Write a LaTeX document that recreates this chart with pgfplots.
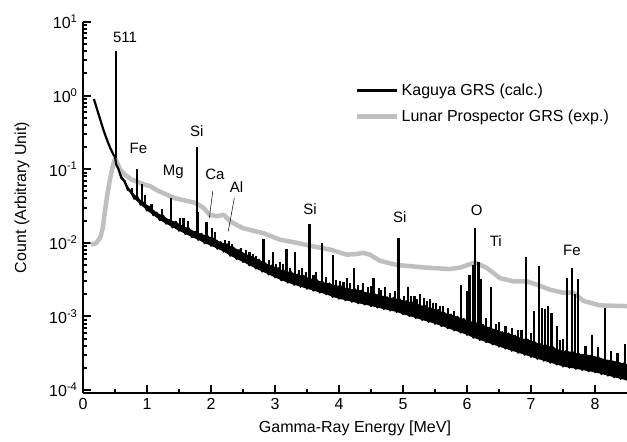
\documentclass[border=0pt]{standalone}
\usepackage{fontspec}
\setmainfont{Liberation Sans}
\usepackage{pgfplots}
\pgfplotsset{compat=1.18}

\begin{document}
\fontsize{16}{19}\selectfont
\begin{tikzpicture}
\begin{axis}[
  scale only axis, width=544pt, height=371pt,
  xmin=0, xmax=8.5, ymin=9.1e-5, ymax=10,
  ymode=log,
  /pgf/number format/assume math mode=true,
  axis lines=left, axis line style={-, line width=2.5pt},
  tick align=inside,
  every tick/.append style={black, line width=2pt},
  major tick length=8pt, minor tick length=4.5pt,
  xtick={0,1,2,3,4,5,6,7,8}, minor x tick num=1,
  ytick={1e-4,1e-3,1e-2,1e-1,1,10},
  yticklabels={10\textsuperscript{-4},10\textsuperscript{-3},10\textsuperscript{-2},10\textsuperscript{-1},10\textsuperscript{0},10\textsuperscript{1}},
  minor ytick={2e-4,3e-4,4e-4,5e-4,6e-4,7e-4,8e-4,9e-4,
               2e-3,3e-3,4e-3,5e-3,6e-3,7e-3,8e-3,9e-3,
               2e-2,3e-2,4e-2,5e-2,6e-2,7e-2,8e-2,9e-2,
               0.2,0.3,0.4,0.5,0.6,0.7,0.8,0.9,
               2,3,4,5,6,7,8,9},
  xlabel={Gamma-Ray Energy [MeV]},
  ylabel={Count (Arbitrary Unit)},
  ylabel shift=9pt,
  every axis y label/.append style={at={(ticklabel cs:0.527)}},
  label style={font=\fontsize{16}{19}\selectfont},
  tick label style={font=\fontsize{16}{19}\selectfont},
  legend style={draw=none, fill=none, at={(0.50,0.84)}, anchor=north west,
    font=\fontsize{16}{19}\selectfont, row sep=8pt, inner sep=0pt},
  legend cell align=left,
  legend image code/.code={\draw[#1] (0pt,0pt) -- (40pt,0pt);},
  reverse legend,
]

% Lunar Prospector GRS (exp.)
\addplot[black!25, line width=4.5pt, line join=round] coordinates {
(0.12,0.0095) (0.2,0.0098) (0.27,0.0118) (0.31,0.016) (0.34,0.026) (0.38,0.045)
(0.42,0.072) (0.46,0.105) (0.50,0.140) (0.55,0.115) (0.58,0.098) (0.65,0.085)
(0.75,0.073) (0.84,0.068) (0.95,0.062) (1.05,0.059) (1.15,0.052) (1.31,0.045)
(1.45,0.040) (1.57,0.038) (1.75,0.035) (1.88,0.030) (1.98,0.024) (2.09,0.023)
(2.2,0.024) (2.3,0.0195) (2.5,0.0158) (2.82,0.0135) (3.08,0.011) (3.34,0.010)
(3.6,0.0089) (3.86,0.0081) (4.12,0.0069) (4.25,0.0070) (4.38,0.0073) (4.48,0.0069)
(4.64,0.0057) (4.9,0.0050) (5.36,0.0046) (5.73,0.0044) (5.89,0.0046) (6.13,0.0054)
(6.3,0.0046) (6.52,0.0033) (6.72,0.0030) (6.93,0.0030) (7.09,0.0027) (7.3,0.0023)
(7.5,0.0021) (7.66,0.0021) (7.82,0.00162) (8.08,0.00141) (8.5,0.00138)
};
\addlegendentry{Lunar Prospector GRS (exp.)}

% Kaguya GRS (calc.): body of the noisy continuum, low envelope then high envelope
\addplot[fill=black, draw=none, forget plot] coordinates {
(0.52,0.115)
(0.60,0.0759) (0.70,0.0525) (0.80,0.0398) (0.90,0.0331) (1.00,0.0275) (1.10,0.0237)
(1.20,0.0204) (1.30,0.0182) (1.40,0.0162) (1.50,0.0146) (1.60,0.0132) (1.70,0.0120)
(1.80,0.0110) (1.90,0.00989) (2.00,0.00912) (2.10,0.00832) (2.20,0.00759) (2.30,0.00668)
(2.40,0.00603) (2.50,0.00550) (2.60,0.00495) (2.70,0.00447) (2.80,0.00407) (2.90,0.00372)
(3.00,0.00339) (3.10,0.00309) (3.20,0.00288) (3.30,0.00269) (3.40,0.00253) (3.50,0.00238)
(3.60,0.00224) (3.70,0.00211) (3.80,0.00200) (3.90,0.00184) (4.00,0.00174) (4.10,0.00166)
(4.20,0.00158) (4.30,0.00151) (4.40,0.00145) (4.50,0.00138) (4.60,0.00132) (4.70,0.00126)
(4.80,0.00120) (4.90,0.00115) (5.00,0.00107) (5.10,0.00101) (5.20,0.000951) (5.30,0.000895)
(5.40,0.000843) (5.50,0.000794) (5.60,0.000741) (5.70,0.000692) (5.80,0.000646) (5.90,0.000603)
(6.00,0.000562) (6.10,0.000513) (6.20,0.000479) (6.30,0.000447) (6.40,0.000417) (6.50,0.000389)
(6.60,0.000365) (6.70,0.000342) (6.80,0.000321) (6.90,0.000301) (7.00,0.000282) (7.10,0.000265)
(7.20,0.000250) (7.30,0.000235) (7.40,0.000222) (7.50,0.000209) (7.60,0.000201) (7.70,0.000194)
(7.80,0.000187) (7.90,0.000180) (8.00,0.000174) (8.10,0.000165) (8.20,0.000157) (8.30,0.000149)
(8.40,0.000142) (8.50,0.000135)
(8.50,0.000225) (8.45,0.000230) (8.35,0.000242) (8.25,0.000254) (8.15,0.000261) (8.05,0.000281)
(7.95,0.000294) (7.85,0.000305) (7.75,0.000309) (7.65,0.000328) (7.55,0.000340) (7.45,0.000349)
(7.35,0.000379) (7.25,0.000403) (7.15,0.000418) (7.05,0.000454) (6.95,0.000483) (6.85,0.000504)
(6.75,0.000550) (6.65,0.000586) (6.55,0.000611) (6.45,0.000668) (6.35,0.000700) (6.25,0.000767)
(6.15,0.000804) (6.05,0.000861) (5.95,0.000923) (5.85,0.000989) (5.75,0.00106) (5.65,0.00111)
(5.55,0.00122) (5.45,0.00127) (5.35,0.00138) (5.25,0.00143) (5.15,0.00155) (5.05,0.00161)
(4.95,0.00170) (4.85,0.00178) (4.75,0.00182) (4.65,0.00195) (4.55,0.00204) (4.45,0.00209)
(4.35,0.00224) (4.25,0.00234) (4.15,0.00234) (4.05,0.00257) (3.95,0.00265) (3.85,0.00281)
(3.75,0.00290) (3.65,0.00315) (3.55,0.00326) (3.45,0.00355) (3.35,0.00369) (3.25,0.00403)
(3.15,0.00412) (3.05,0.00452) (2.95,0.00490) (2.85,0.00525) (2.75,0.00589) (2.65,0.00653)
(2.55,0.00692) (2.45,0.00794) (2.35,0.00861) (2.25,0.00955) (2.15,0.0102) (2.05,0.0115)
(1.95,0.0123) (1.85,0.0132) (1.75,0.0141) (1.65,0.0158) (1.55,0.0170) (1.45,0.0193)
(1.35,0.0204) (1.25,0.0234) (1.15,0.0257) (1.05,0.0309) (0.95,0.0351) (0.85,0.0417)
(0.75,0.0507) (0.65,0.0692) (0.55,0.102)
} -- cycle;

% Kaguya GRS (calc.) continuum
\addplot[black, line width=2.2pt, line join=round] coordinates {
(0.17,0.90) (0.22,0.65) (0.27,0.47) (0.32,0.34) (0.375,0.25) (0.43,0.19) (0.48,0.155)
(0.50,0.148) (0.52,0.115)
(0.55,0.102) (0.60,0.0759) (0.65,0.0692) (0.70,0.0525) (0.75,0.0507) (0.80,0.0398)
(0.85,0.0417) (0.90,0.0331) (0.95,0.0351) (1.00,0.0275) (1.05,0.0309) (1.10,0.0237)
(1.15,0.0257) (1.20,0.0204) (1.25,0.0234) (1.30,0.0182) (1.35,0.0204) (1.40,0.0162)
(1.45,0.0193) (1.50,0.0146) (1.55,0.0170) (1.60,0.0132) (1.65,0.0158) (1.70,0.0120)
(1.75,0.0141) (1.80,0.0110) (1.85,0.0132) (1.90,0.00989) (1.95,0.0123) (2.00,0.00912)
(2.05,0.0115) (2.10,0.00832) (2.15,0.0102) (2.20,0.00759) (2.25,0.00955) (2.30,0.00668)
(2.35,0.00861) (2.40,0.00603) (2.45,0.00794) (2.50,0.00550) (2.55,0.00692) (2.60,0.00495)
(2.65,0.00653) (2.70,0.00447) (2.75,0.00589) (2.80,0.00407) (2.85,0.00525) (2.90,0.00372)
(2.95,0.00490) (3.00,0.00339) (3.05,0.00452) (3.10,0.00309) (3.15,0.00412) (3.20,0.00288)
(3.25,0.00403) (3.30,0.00269) (3.35,0.00369) (3.40,0.00253) (3.45,0.00355) (3.50,0.00238)
(3.55,0.00326) (3.60,0.00224) (3.65,0.00315) (3.70,0.00211) (3.75,0.00290) (3.80,0.00200)
(3.85,0.00281) (3.90,0.00184) (3.95,0.00265) (4.00,0.00174) (4.05,0.00257) (4.10,0.00166)
(4.15,0.00234) (4.20,0.00158) (4.25,0.00234) (4.30,0.00151) (4.35,0.00224) (4.40,0.00145)
(4.45,0.00209) (4.50,0.00138) (4.55,0.00204) (4.60,0.00132) (4.65,0.00195) (4.70,0.00126)
(4.75,0.00182) (4.80,0.00120) (4.85,0.00178) (4.90,0.00115) (4.95,0.00170) (5.00,0.00107)
(5.05,0.00161) (5.10,0.00101) (5.15,0.00155) (5.20,0.000951) (5.25,0.00143) (5.30,0.000895)
(5.35,0.00138) (5.40,0.000843) (5.45,0.00127) (5.50,0.000794) (5.55,0.00122) (5.60,0.000741)
(5.65,0.00111) (5.70,0.000692) (5.75,0.00106) (5.80,0.000646) (5.85,0.000989) (5.90,0.000603)
(5.95,0.000923) (6.00,0.000562) (6.05,0.000861) (6.10,0.000513) (6.15,0.000804) (6.20,0.000479)
(6.25,0.000767) (6.30,0.000447) (6.35,0.000700) (6.40,0.000417) (6.45,0.000668) (6.50,0.000389)
(6.55,0.000611) (6.60,0.000365) (6.65,0.000586) (6.70,0.000342) (6.75,0.000550) (6.80,0.000321)
(6.85,0.000504) (6.90,0.000301) (6.95,0.000483) (7.00,0.000282) (7.05,0.000454) (7.10,0.000265)
(7.15,0.000418) (7.20,0.000250) (7.25,0.000403) (7.30,0.000235) (7.35,0.000379) (7.40,0.000222)
(7.45,0.000349) (7.50,0.000209) (7.55,0.000340) (7.60,0.000201) (7.65,0.000328) (7.70,0.000194)
(7.75,0.000309) (7.80,0.000187) (7.85,0.000305) (7.90,0.000180) (7.95,0.000294) (8.00,0.000174)
(8.05,0.000281) (8.10,0.000165) (8.15,0.000261) (8.20,0.000157) (8.25,0.000254) (8.30,0.000149)
(8.35,0.000242) (8.40,0.000142) (8.45,0.000230) (8.50,0.000135)
};
\addlegendentry{Kaguya GRS (calc.)}

% Kaguya GRS (calc.) lines
\addplot[black, line width=2.2pt, unbounded coords=jump, forget plot] coordinates {
(0.511,0.14) (0.511,4.0) (0.511,nan)
(0.77,0.046) (0.77,0.056) (0.77,nan)
(0.847,0.040) (0.847,0.100) (0.847,nan)
(0.92,0.035) (0.92,0.062) (0.92,nan)
(0.97,0.032) (0.97,0.045) (0.97,nan)
(1.07,0.028) (1.07,0.034) (1.07,nan)
(1.23,0.022) (1.23,0.029) (1.23,nan)
(1.369,0.019) (1.369,0.040) (1.369,nan)
(1.52,0.0165) (1.52,0.022) (1.52,nan)
(1.57,0.0155) (1.57,0.022) (1.57,nan)
(1.64,0.0145) (1.64,0.020) (1.64,nan)
(1.779,0.0126) (1.779,0.20) (1.779,nan)
(1.80,0.012) (1.80,0.026) (1.80,nan)
(1.93,0.0112) (1.93,0.019) (1.93,nan)
(2.01,0.0104) (2.01,0.016) (2.01,nan)
(2.06,0.0099) (2.06,0.014) (2.06,nan)
(2.22,0.0085) (2.22,0.011) (2.22,nan)
(2.28,0.0079) (2.28,0.0105) (2.28,nan)
(2.33,0.0076) (2.33,0.0095) (2.33,nan)
(2.40,0.0071) (2.40,0.0081) (2.40,nan)
(2.47,0.0066) (2.47,0.0085) (2.47,nan)
(2.55,0.0062) (2.55,0.0081) (2.55,nan)
(2.60,0.0058) (2.60,0.0074) (2.60,nan)
(2.65,0.0056) (2.65,0.0070) (2.65,nan)
(2.70,0.0052) (2.70,0.0066) (2.70,nan)
(2.82,0.0047) (2.82,0.0112) (2.82,nan)
(2.90,0.0044) (2.90,0.0058) (2.90,nan)
(2.97,0.0041) (2.97,0.0074) (2.97,nan)
(3.02,0.0039) (3.02,0.0052) (3.02,nan)
(3.08,0.0038) (3.08,0.0055) (3.08,nan)
(3.12,0.0037) (3.12,0.0051) (3.12,nan)
(3.18,0.0035) (3.18,0.0083) (3.18,nan)
(3.24,0.0034) (3.24,0.0046) (3.24,nan)
(3.31,0.0032) (3.31,0.0074) (3.31,nan)
(3.37,0.0031) (3.37,0.0043) (3.37,nan)
(3.42,0.0030) (3.42,0.0045) (3.42,nan)
(3.48,0.0029) (3.48,0.0040) (3.48,nan)
(3.54,0.0028) (3.54,0.0178) (3.54,nan)
(3.60,0.0027) (3.60,0.0036) (3.60,nan)
(3.64,0.0026) (3.64,0.0040) (3.64,nan)
(3.73,0.0025) (3.73,0.0100) (3.73,nan)
(3.80,0.0024) (3.80,0.0034) (3.80,nan)
(3.90,0.0023) (3.90,0.0069) (3.90,nan)
(3.95,0.0022) (3.95,0.0031) (3.95,nan)
(4.02,0.0021) (4.02,0.0030) (4.02,nan)
(4.07,0.0021) (4.07,0.0029) (4.07,nan)
(4.12,0.0020) (4.12,0.0033) (4.12,nan)
(4.17,0.0020) (4.17,0.0028) (4.17,nan)
(4.23,0.0019) (4.23,0.0046) (4.23,nan)
(4.30,0.0019) (4.30,0.0027) (4.30,nan)
(4.38,0.0018) (4.38,0.0028) (4.38,nan)
(4.45,0.0017) (4.45,0.0025) (4.45,nan)
(4.50,0.0017) (4.50,0.0026) (4.50,nan)
(4.54,0.0017) (4.54,0.0033) (4.54,nan)
(4.62,0.0016) (4.62,0.0024) (4.62,nan)
(4.66,0.0016) (4.66,0.0023) (4.66,nan)
(4.72,0.0015) (4.72,0.0025) (4.72,nan)
(4.80,0.0015) (4.80,0.0021) (4.80,nan)
(4.87,0.0014) (4.87,0.0022) (4.87,nan)
(4.93,0.00138) (4.93,0.0117) (4.93,nan)
(5.02,0.0013) (5.02,0.0019) (5.02,nan)
(5.08,0.0013) (5.08,0.0025) (5.08,nan)
(5.13,0.0012) (5.13,0.0019) (5.13,nan)
(5.18,0.0012) (5.18,0.0019) (5.18,nan)
(5.22,0.0012) (5.22,0.0017) (5.22,nan)
(5.27,0.00115) (5.27,0.0020) (5.27,nan)
(5.33,0.0011) (5.33,0.0018) (5.33,nan)
(5.37,0.0011) (5.37,0.0016) (5.37,nan)
(5.42,0.00105) (5.42,0.0017) (5.42,nan)
(5.47,0.0010) (5.47,0.0015) (5.47,nan)
(5.52,0.00098) (5.52,0.0015) (5.52,nan)
(5.58,0.00095) (5.58,0.0014) (5.58,nan)
(5.63,0.00092) (5.63,0.00138) (5.63,nan)
(5.70,0.00087) (5.70,0.0013) (5.70,nan)
(5.80,0.00081) (5.80,0.0012) (5.80,nan)
(5.91,0.00076) (5.91,0.0027) (5.91,nan)
(6.00,0.00072) (6.00,0.0022) (6.00,nan)
(6.04,0.00070) (6.04,0.0036) (6.04,nan)
(6.10,0.00066) (6.10,0.0050) (6.10,nan)
(6.129,0.00065) (6.129,0.0158) (6.129,nan)
(6.18,0.00062) (6.18,0.0054) (6.18,nan)
(6.21,0.0006) (6.21,0.0032) (6.21,nan)
(6.30,0.00058) (6.30,0.00095) (6.30,nan)
(6.37,0.00053) (6.37,0.0025) (6.37,nan)
(6.45,0.00052) (6.45,0.0008) (6.45,nan)
(6.50,0.0005) (6.50,0.00085) (6.50,nan)
(6.60,0.00045) (6.60,0.00075) (6.60,nan)
(6.70,0.00044) (6.70,0.0007) (6.70,nan)
(6.80,0.0004) (6.80,0.00065) (6.80,nan)
(6.85,0.0004) (6.85,0.00065) (6.85,nan)
(6.92,0.00038) (6.92,0.0065) (6.92,nan)
(7.00,0.00036) (7.00,0.0006) (7.00,nan)
(7.05,0.00035) (7.05,0.0012) (7.05,nan)
(7.12,0.00034) (7.12,0.0048) (7.12,nan)
(7.17,0.00033) (7.17,0.0013) (7.17,nan)
(7.22,0.00032) (7.22,0.00125) (7.22,nan)
(7.27,0.00031) (7.27,0.0014) (7.27,nan)
(7.32,0.0003) (7.32,0.0011) (7.32,nan)
(7.40,0.00029) (7.40,0.00075) (7.40,nan)
(7.45,0.00028) (7.45,0.00048) (7.45,nan)
(7.50,0.00027) (7.50,0.0005) (7.50,nan)
(7.56,0.00026) (7.56,0.0033) (7.56,nan)
(7.64,0.00025) (7.64,0.0046) (7.64,nan)
(7.69,0.00025) (7.69,0.0020) (7.69,nan)
(7.74,0.00024) (7.74,0.0032) (7.74,nan)
(7.85,0.00023) (7.85,0.0004) (7.85,nan)
(7.95,0.00022) (7.95,0.00056) (7.95,nan)
(8.05,0.00021) (8.05,0.00038) (8.05,nan)
(8.16,0.0002) (8.16,0.0013) (8.16,nan)
(8.25,0.0002) (8.25,0.00034) (8.25,nan)
(8.35,0.00019) (8.35,0.00032) (8.35,nan)
(8.47,0.00018) (8.47,0.00042) (8.47,nan)
};

% peak names
\begin{scope}[every node/.style={font=\fontsize{15}{18}\selectfont, inner sep=0pt}]
\node at (axis cs:0.656,6.2) {511};
\node at (axis cs:0.865,0.193) {Fe};
\node at (axis cs:1.41,0.093) {Mg};
\node at (axis cs:1.777,0.325) {Si};
\node at (axis cs:2.06,0.084) {Ca};
\node at (axis cs:2.40,0.058) {Al};
\node at (axis cs:3.547,0.0288) {Si};
\node at (axis cs:4.95,0.0224) {Si};
\node at (axis cs:6.15,0.0275) {O};
\node at (axis cs:6.45,0.0105) {Ti};
\node at (axis cs:7.64,0.0079) {Fe};
\end{scope}
\draw[line width=0.5pt] (axis cs:2.027,0.0498) -- (axis cs:1.974,0.0217);
\draw[line width=0.5pt] (axis cs:2.364,0.0406) -- (axis cs:2.27,0.0143);
\end{axis}
\pgfresetboundingbox
\path[use as bounding box] (-83pt,-49pt) rectangle (544pt,393pt);
\end{tikzpicture}
\end{document}
